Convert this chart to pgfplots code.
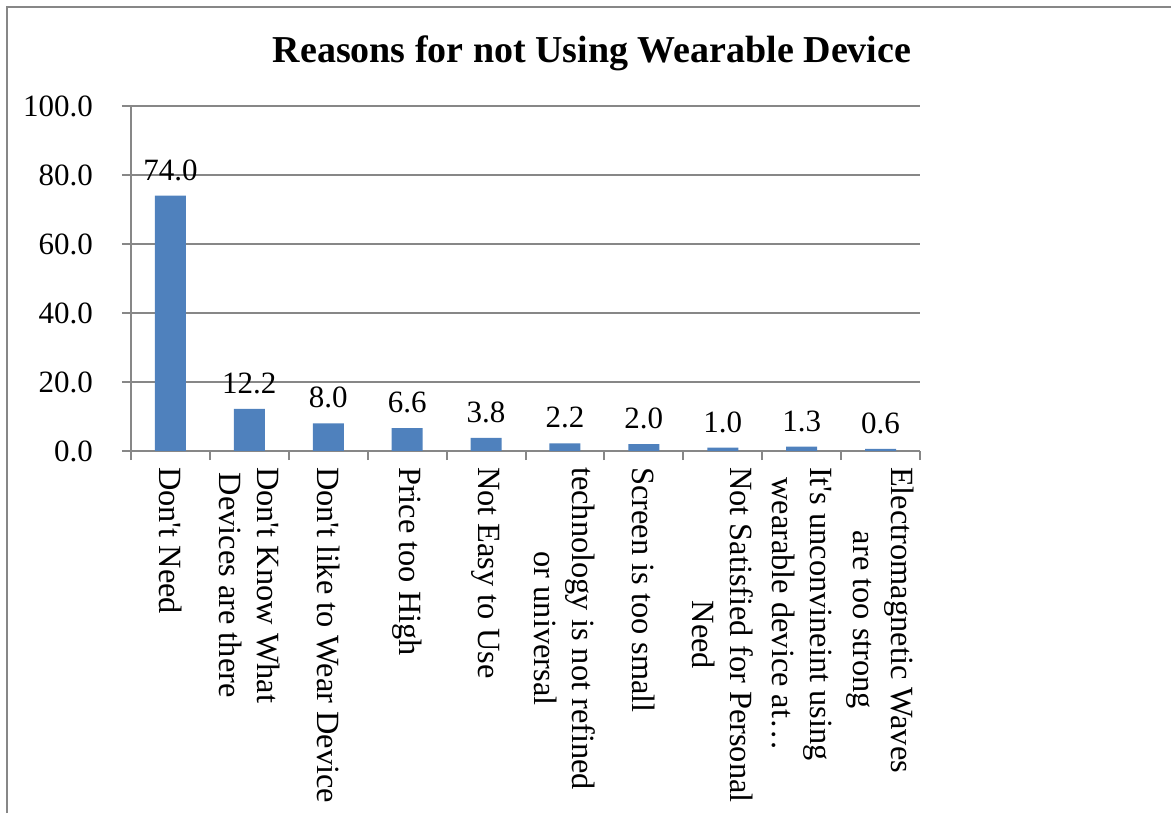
\documentclass[border=0pt]{standalone}
\usepackage{fontspec}
\setmainfont{Liberation Serif}
\usepackage{pgfplots}
\pgfplotsset{compat=1.18}

\definecolor{barblue}{HTML}{4F81BD}
\definecolor{axisgray}{HTML}{878787}

\begin{document}
\begin{tikzpicture}
  % page size and outer frame
  \useasboundingbox (0,0) rectangle (585.5pt,406.5pt);
  \draw[axisgray, line width=1pt] (3.5pt,0) -- (3.5pt,403pt) -- (585.5pt,403pt);
  \begin{axis}[
    at={(65.5pt,181pt)}, anchor=south west,
    scale only axis,
    width=394.5pt, height=172.5pt,
    ybar, bar width=15.5pt,
    xmin=-0.5, xmax=9.5,
    ymin=0, ymax=100,
    ytick={0,20,...,100},
    /pgf/number format/assume math mode=true,
    yticklabel={\pgfmathprintnumber[fixed,fixed zerofill,precision=1]{\tick}},
    xtick={-0.5,0.5,...,9.5},
    x tick label as interval,
    xticklabels={
      Don\textquotesingle t Need,
      {Don\textquotesingle t Know What\\Devices are there},
      Don\textquotesingle t like to Wear Device,
      Price too High,
      Not Easy to Use,
      {technology is not refined\\or universal},
      Screen is too small,
      {Not Satisfied for Personal\\Need},
      {It\textquotesingle s unconvineint using\\wearable device at…},
      {Electromagnetic Waves\\are too strong}
    },
    axis x line=bottom, axis y line=left,
    axis line style={-, draw=axisgray, line width=1pt},
    tick align=outside,
    major tick length=4.5pt,
    tick style={draw=axisgray, line width=1pt},
    ymajorgrids,
    grid style={draw=axisgray, line width=1pt},
    tick label style={font=\fontsize{15.5}{18.5}\selectfont, text=black},
    yticklabel style={anchor=east, xshift=-11pt},
    xticklabel style={font=\fontsize{16.2}{19}\selectfont, rotate=-90, anchor=west, align=center},
    title={\textbf{Reasons for not Using Wearable Device}},
    title style={font=\fontsize{19}{22}\selectfont, at={(0.5843,1.1246)}, anchor=base, yshift=-5.5pt},
    nodes near coords={\pgfmathprintnumber[fixed,fixed zerofill,precision=1]{\pgfplotspointmeta}},
    nodes near coords style={font=\fontsize{15.5}{18.5}\selectfont, text=black, yshift=4pt},
  ]
    \addplot[fill=barblue, draw=none] coordinates {
      (0,74.0) (1,12.2) (2,8.0) (3,6.6) (4,3.8)
      (5,2.2) (6,2.0) (7,1.0) (8,1.3) (9,0.6)
    };
  \end{axis}
\end{tikzpicture}
\end{document}
